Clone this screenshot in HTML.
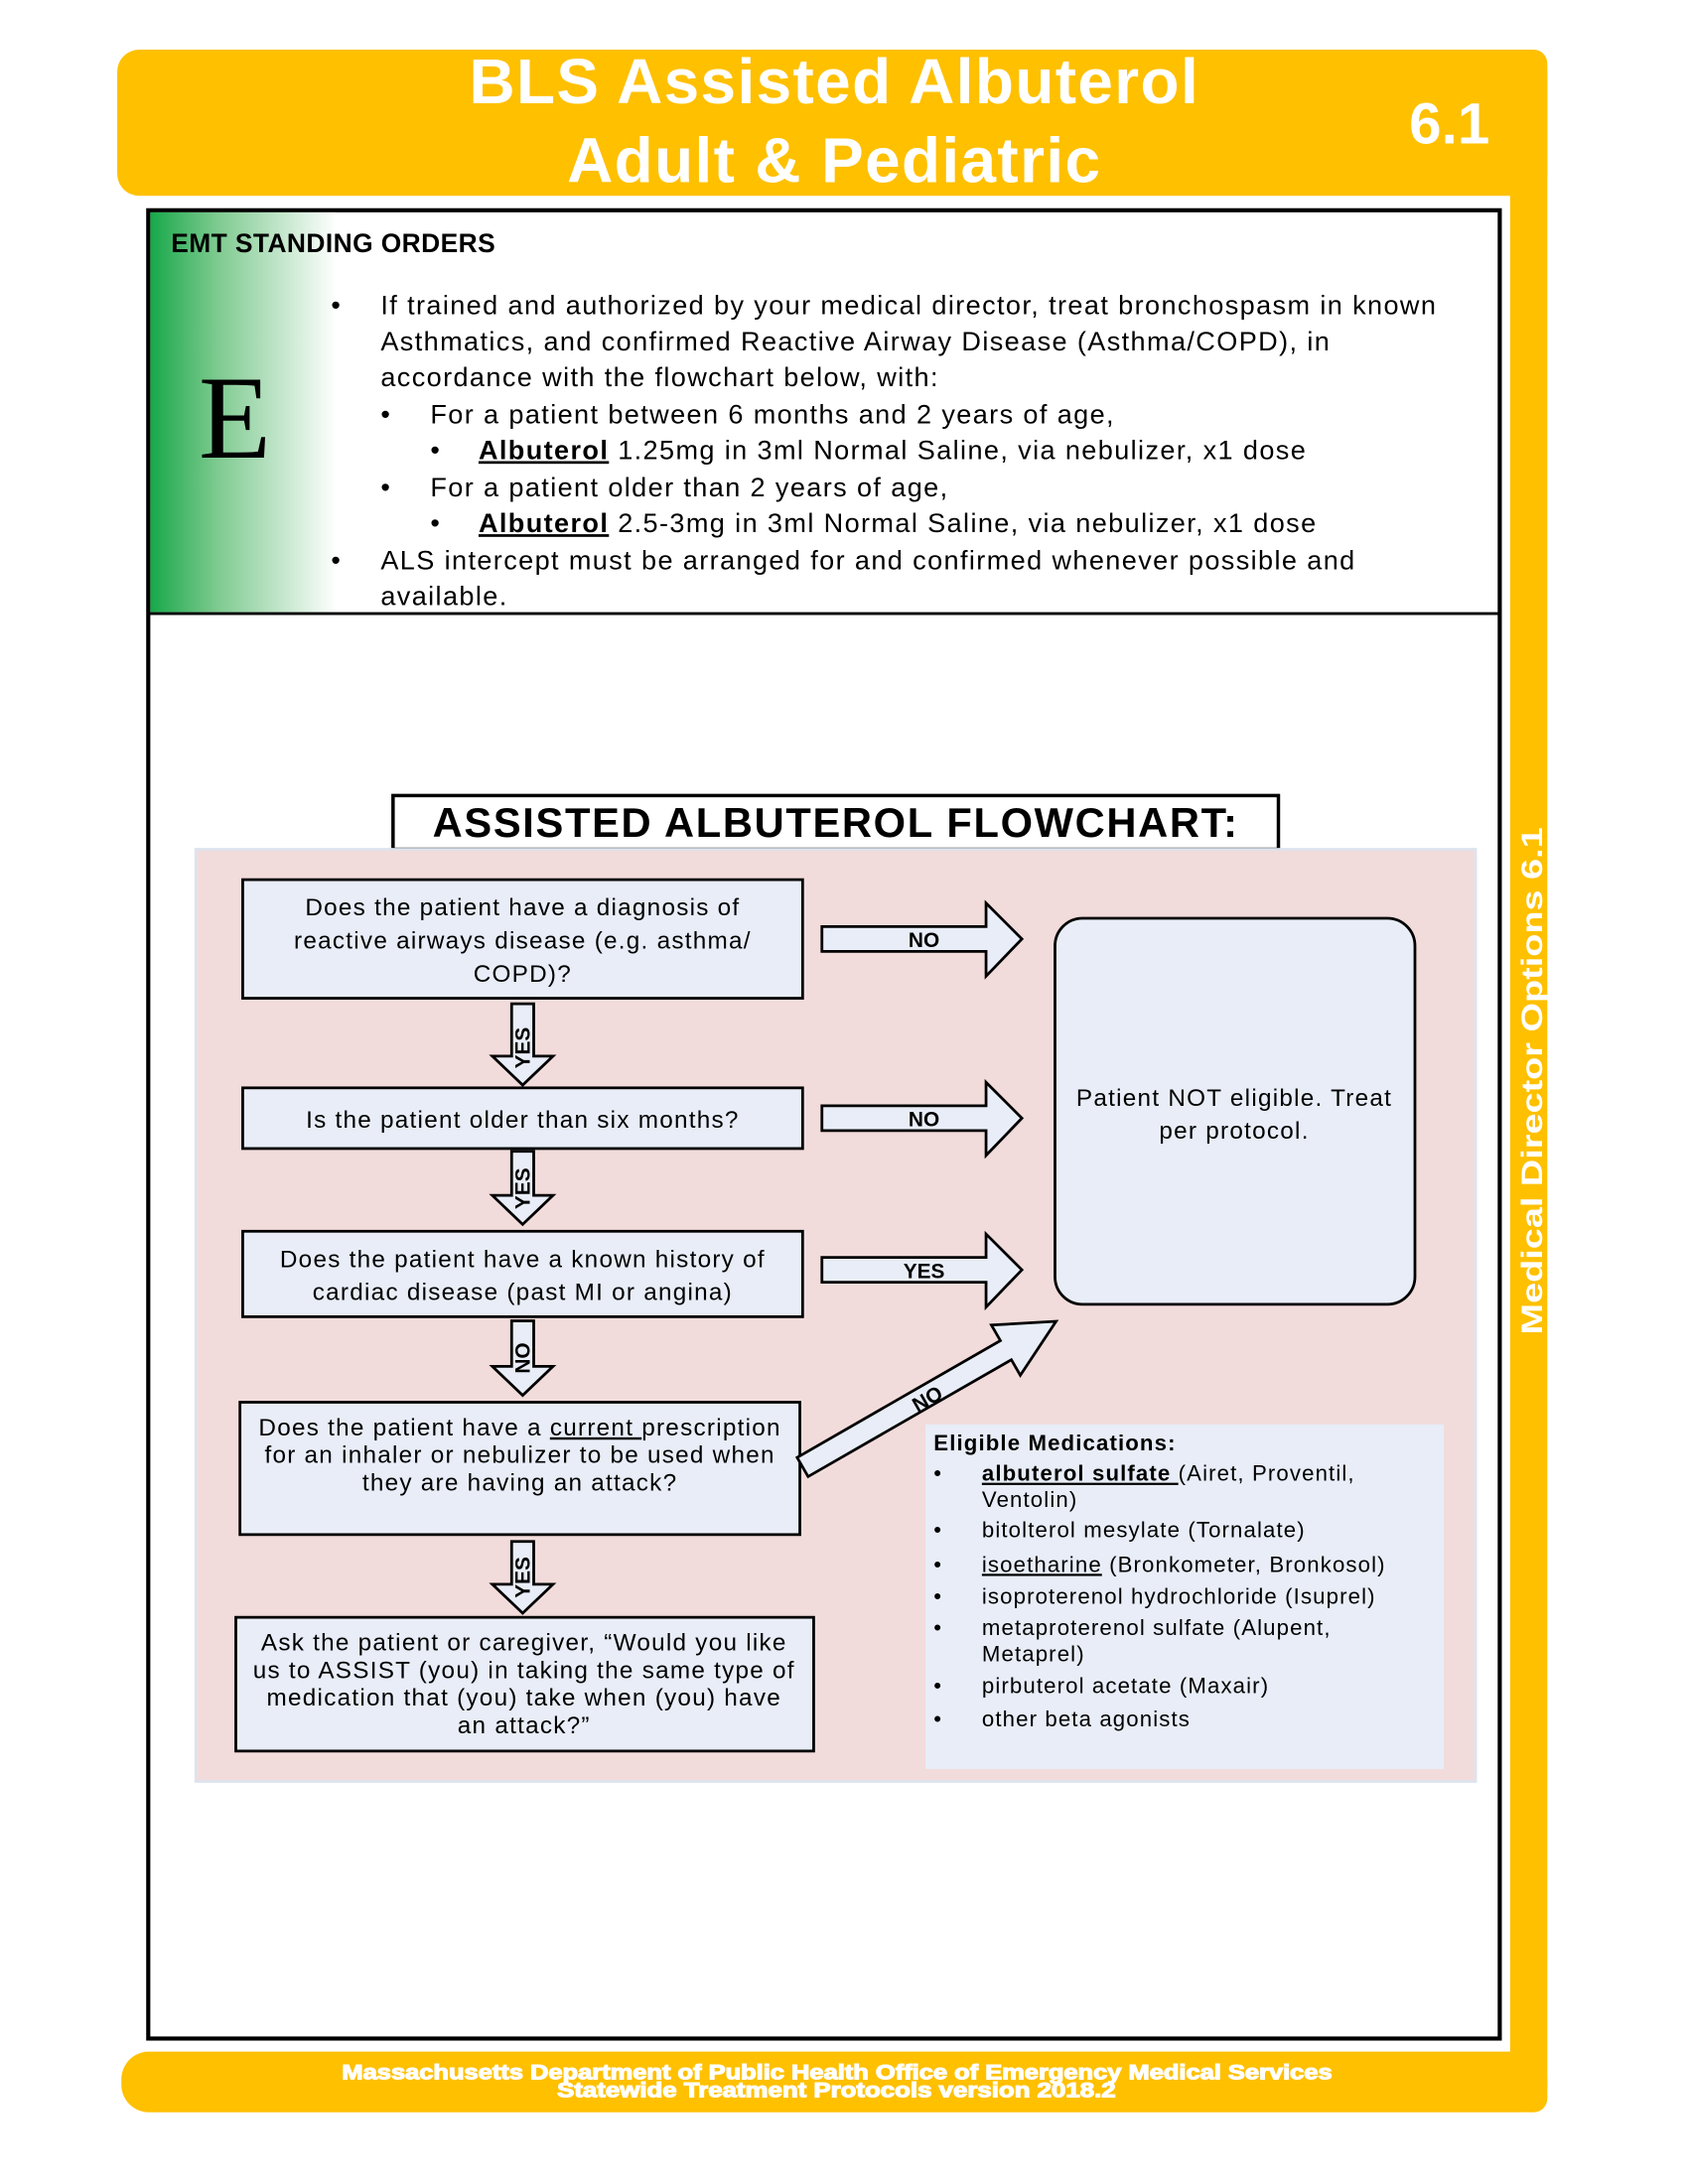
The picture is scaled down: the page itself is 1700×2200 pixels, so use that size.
<!DOCTYPE html>
<html><head><meta charset="utf-8"><style>
html,body{margin:0;padding:0;background:#fff;}
svg{display:block;}
text{font-family:"Liberation Sans",Arial,sans-serif;}
</style></head><body>
<svg width="1700" height="2200" viewBox="0 0 1224 1584" xmlns="http://www.w3.org/2000/svg">
<defs>
<linearGradient id="g" x1="0" x2="1" y1="0" y2="0">
<stop offset="0" stop-color="#17a84a"/><stop offset="0.35" stop-color="#7cc98e"/><stop offset="1" stop-color="#ffffff"/>
</linearGradient>
</defs>
<rect width="1224" height="1584" fill="#fff"/>
<rect x="85" y="36" width="1037" height="106" rx="16" fill="#FFC000"/>
<rect x="1095" y="36" width="27" height="1496" rx="10" fill="#FFC000"/>
<rect x="88" y="1488" width="1034" height="44" rx="20" fill="#FFC000"/>
<text x="605" y="75" font-size="46" font-weight="bold" fill="#fff" text-anchor="middle" letter-spacing="1">BLS Assisted Albuterol</text>
<text x="605" y="132" font-size="46" font-weight="bold" fill="#fff" text-anchor="middle" letter-spacing="1">Adult &amp; Pediatric</text>
<text x="1051" y="104" font-size="42" font-weight="bold" fill="#fff" text-anchor="middle">6.1</text>
<text transform="translate(1118,968) rotate(-90)" font-size="21" font-weight="bold" fill="#fff" textLength="368" lengthAdjust="spacingAndGlyphs">Medical Director Options 6.1</text>
<g font-size="15" font-weight="bold" fill="#fff" stroke="#fff" stroke-width="0.8">
<text x="248" y="1508" textLength="718" lengthAdjust="spacingAndGlyphs">Massachusetts Department of Public Health Office of Emergency Medical Services</text>
<text x="404" y="1521" textLength="405" lengthAdjust="spacingAndGlyphs">Statewide Treatment Protocols version 2018.2</text>
</g>
<rect x="107.5" y="152.5" width="980" height="1326" fill="#fff" stroke="#000" stroke-width="3"/>
<rect x="109" y="154" width="135" height="290" fill="url(#g)"/>
<line x1="107" y1="445" x2="1088" y2="445" stroke="#000" stroke-width="2"/>
<text x="124" y="183" font-size="19" font-weight="bold" letter-spacing="0.3">EMT STANDING ORDERS</text>
<text x="144" y="332" font-size="86" style="font-family:'Liberation Serif',serif">E</text>
<g font-size="19.5" fill="#000" letter-spacing="1">
<text x="240" y="228">•</text>
<text x="276" y="228">If trained and authorized by your medical director, treat bronchospasm in known</text>
<text x="276" y="254">Asthmatics, and confirmed Reactive Airway Disease (Asthma/COPD), in</text>
<text x="276" y="280">accordance with the flowchart below, with:</text>
<text x="276" y="307">•</text>
<text x="312" y="307">For a patient between 6 months and 2 years of age,</text>
<text x="312" y="333">•</text>
<text x="347" y="333"><tspan font-weight="bold" text-decoration="underline">Albuterol</tspan> 1.25mg in 3ml Normal Saline, via nebulizer, x1 dose</text>
<text x="276" y="360">•</text>
<text x="312" y="360">For a patient older than 2 years of age,</text>
<text x="312" y="386">•</text>
<text x="347" y="386"><tspan font-weight="bold" text-decoration="underline">Albuterol</tspan> 2.5-3mg in 3ml Normal Saline, via nebulizer, x1 dose</text>
<text x="240" y="413">•</text>
<text x="276" y="413">ALS intercept must be arranged for and confirmed whenever possible and</text>
<text x="276" y="439">available.</text>
</g>
<rect x="285" y="577" width="642" height="39" fill="#fff" stroke="#000" stroke-width="2.5"/>
<text x="606" y="607" font-size="30" font-weight="bold" text-anchor="middle" letter-spacing="1.2">ASSISTED ALBUTEROL FLOWCHART:</text>
<rect x="142" y="616" width="928" height="676" fill="#F2DCDB" stroke="#dde3ee" stroke-width="2"/>
<g fill="#E8EDF7" stroke="#000" stroke-width="2">
<rect x="176" y="638" width="406" height="86"/>
<rect x="176" y="789" width="406" height="44"/>
<rect x="176" y="893" width="406" height="62"/>
<rect x="174" y="1017" width="406" height="96"/>
<rect x="171" y="1173" width="419" height="97"/>
<rect x="765" y="666" width="261" height="280" rx="20"/>
</g>
<rect x="671" y="1033" width="376" height="250" fill="#E8EDF7"/>
<g font-size="17.5" text-anchor="middle" letter-spacing="0.9">
<text x="379" y="664">Does the patient have a diagnosis of</text>
<text x="379" y="688">reactive airways disease (e.g. asthma/</text>
<text x="379" y="712">COPD)?</text>
<text x="379" y="818">Is the patient older than six months?</text>
<text x="379" y="919">Does the patient have a known history of</text>
<text x="379" y="943">cardiac disease (past MI or angina)</text>
<text x="377" y="1041">Does the patient have a <tspan text-decoration="underline">current </tspan>prescription</text>
<text x="377" y="1061">for an inhaler or nebulizer to be used when</text>
<text x="377" y="1081">they are having an attack?</text>
<text x="380" y="1197">Ask the patient or caregiver, “Would you like</text>
<text x="380" y="1217">us to ASSIST (you) in taking the same type of</text>
<text x="380" y="1237">medication that (you) take when (you) have</text>
<text x="380" y="1257">an attack?”</text>
<text x="895" y="802">Patient NOT eligible. Treat</text>
<text x="895" y="826">per protocol.</text>
</g>
<g fill="#E8EDF7" stroke="#000" stroke-width="2">
<polygon points="596,672 715,672 715,655 741,681 715,708 715,690 596,690"/>
<polygon points="596,802 715,802 715,785 741,811 715,838 715,820 596,820"/>
<polygon points="596,912 715,912 715,895 741,921 715,948 715,930 596,930"/>
<polygon points="371,728 387,728 387,766 401,766 379,787 357,766 371,766"/>
<polygon points="371,835 387,835 387,867 401,867 379,888 357,867 371,867"/>
<polygon points="371,958 387,958 387,991 401,991 379,1012 357,991 371,991"/>
<polygon points="371,1118 387,1118 387,1149 401,1149 379,1170 357,1149 371,1149"/>
<polygon transform="translate(582,1064) rotate(-29.9)" points="0,-8 170,-8 170,-21 212,0 170,21 170,8 0,8"/>
</g>
<g font-size="15" font-weight="bold" text-anchor="middle">
<text x="670" y="687">NO</text>
<text x="670" y="817">NO</text>
<text x="670" y="927">YES</text>
<text transform="translate(384,760) rotate(-90)">YES</text>
<text transform="translate(384,862) rotate(-90)">YES</text>
<text transform="translate(384,985) rotate(-90)">NO</text>
<text transform="translate(384,1144) rotate(-90)">YES</text>
<text transform="translate(675,1019) rotate(-29.9)">NO</text>
</g>
<g font-size="16" letter-spacing="0.8">
<text x="677" y="1052" font-weight="bold">Eligible Medications:</text>
<text x="677" y="1074">•</text><text x="712" y="1074"><tspan font-weight="bold" text-decoration="underline">albuterol sulfate </tspan>(Airet, Proventil,</text>
<text x="712" y="1093">Ventolin)</text>
<text x="677" y="1115">•</text><text x="712" y="1115">bitolterol mesylate (Tornalate)</text>
<text x="677" y="1140">•</text><text x="712" y="1140"><tspan text-decoration="underline">isoetharine</tspan> (Bronkometer, Bronkosol)</text>
<text x="677" y="1163">•</text><text x="712" y="1163">isoproterenol hydrochloride (Isuprel)</text>
<text x="677" y="1186">•</text><text x="712" y="1186">metaproterenol sulfate (Alupent,</text>
<text x="712" y="1205">Metaprel)</text>
<text x="677" y="1228">•</text><text x="712" y="1228">pirbuterol acetate (Maxair)</text>
<text x="677" y="1252">•</text><text x="712" y="1252">other beta agonists</text>
</g>
</svg>
</body></html>
